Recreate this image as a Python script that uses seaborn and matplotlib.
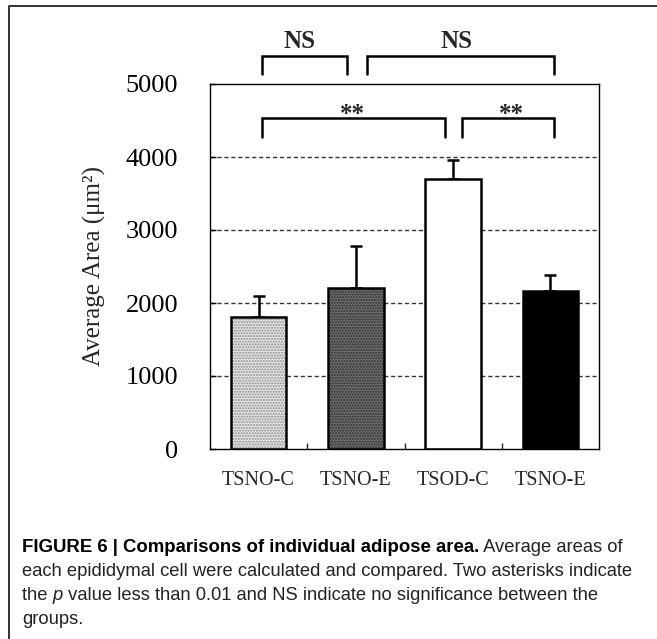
import matplotlib
matplotlib.use("Agg")
import matplotlib.pyplot as plt
from matplotlib.patches import Rectangle
from matplotlib.lines import Line2D
import seaborn as sns
import pandas as pd
import numpy as np

groups = ["TSNO-C", "TSNO-E", "TSOD-C", "TSNO-E "]
tick_labels = ["TSNO-C", "TSNO-E", "TSOD-C", "TSNO-E"]
means = [1810, 2200, 3700, 2165]
errs = [290, 580, 260, 220]
face_colors = ["#e6e6e6", "#6e6e6e", "#ffffff", "#000000"]
hatch_colors = ["#8a8a8a", "#2e2e2e", "#ffffff", "#000000"]
hatches = ["......", "......", "", ""]
y_ticks = [0, 1000, 2000, 3000, 4000, 5000]

caption_bold = "FIGURE 6 | Comparisons of individual adipose area."

sns.set_theme(style="white")
plt.rcParams["font.family"] = ["Liberation Serif", "DejaVu Serif"]
plt.rcParams["hatch.linewidth"] = 1.0

fig = plt.figure(figsize=(6.57, 6.39), dpi=100)
ax = fig.add_axes([210 / 657, 1 - 449 / 639, 389 / 657, 365 / 639])

df = pd.DataFrame({"group": groups, "area": means})
sns.barplot(data=df, x="group", y="area", hue="group", palette=face_colors,
            width=0.57, legend=False, ax=ax, errorbar=None, saturation=1)

bars = list(ax.patches)
for p, hc, h in zip(bars, hatch_colors, hatches):
    p.set_hatch(h)
    p.set_edgecolor(hc)
    p.set_linewidth(0)
    p.set_zorder(2)
    ax.add_patch(Rectangle(p.get_xy(), p.get_width(), p.get_height(),
                           fill=False, ec="black", lw=1.8, zorder=3))

x = np.arange(len(groups))
ax.errorbar(x, means, yerr=[np.zeros(len(errs)), errs], fmt="none",
            ecolor="black", elinewidth=1.8, capsize=4.5, capthick=1.8, zorder=1)

ax.set_xlim(-0.5, 3.5)
ax.set_ylim(0, 5000)
ax.set_yticks(y_ticks)
ax.set_yticklabels([str(t) for t in y_ticks], fontsize=19)
ax.set_xticks(x)
ax.set_xticklabels(tick_labels, fontsize=14.5)
ax.set_xticks([0.5, 1.5, 2.5], minor=True)
ax.tick_params(axis="y", direction="in", length=4, width=1, pad=23, left=True, colors="black")
ax.tick_params(axis="x", which="major", length=0, pad=16)
ax.tick_params(axis="x", which="minor", direction="in", length=4, width=1, bottom=True)
ax.set_xlabel("")
ax.set_ylabel("Average Area (μm²)", fontsize=18, labelpad=14)

for yv in y_ticks[1:-1]:
    ax.axhline(yv, color="#333333", lw=1.0, ls=(0, (3, 2)), zorder=0.5)

for s in ax.spines.values():
    s.set_color("black")
    s.set_linewidth(1.0)

# significance brackets
def bracket(x0, x1, ytop, ybot, label, ytext, xtext, is_ns):
    ax.plot([x0, x0, x1, x1], [ybot, ytop, ytop, ybot], color="black", lw=1.8,
            clip_on=False, solid_joinstyle="miter")
    ax.text(xtext, ytext, label, ha="center", va="center" if is_ns else "bottom",
            fontsize=18, fontweight="bold", clip_on=False)

bracket(0.035, 0.91, 5384, 5137, "NS", 5580, 0.42, True)
bracket(1.115, 3.04, 5384, 5137, "NS", 5580, 2.04, True)
bracket(0.035, 1.915, 4534, 4274, "**", 4420, 0.96, False)
bracket(2.09, 3.04, 4534, 4274, "**", 4420, 2.6, False)

# outer frame (top and left)
fig.add_artist(Line2D([9 / 657, 9 / 657, 1.0], [0.0, 1 - 6 / 639, 1 - 6 / 639],
                      transform=fig.transFigure, color="#222222", lw=1.3))

# caption
cap_font = ["Liberation Sans", "DejaVu Sans"]
fs_b = 13.4
fs = 13.2
W = fig.bbox.width
fig.canvas.draw()
renderer = fig.canvas.get_renderer()


def run(pieces, ypx):
    xpx = 22.0
    for txt, kw in pieces:
        opts = dict(va="center", ha="left", family=cap_font, color="#222222")
        opts.update(kw)
        t = fig.text(xpx / W, 1 - ypx / 639, txt, **opts)
        xpx = t.get_window_extent(renderer=renderer).x1


run([(caption_bold, dict(fontsize=fs_b, fontweight="bold", color="black")),
     (" Average areas of", dict(fontsize=fs))], 547)
run([("each epididymal cell were calculated and compared. Two asterisks indicate",
      dict(fontsize=fs))], 572)
run([("the ", dict(fontsize=fs)), ("p", dict(fontsize=fs, style="italic")),
     (" value less than 0.01 and NS indicate no significance between the",
      dict(fontsize=fs))], 596)
run([("groups.", dict(fontsize=fs))], 620)

fig.savefig("out.png", dpi=100)
